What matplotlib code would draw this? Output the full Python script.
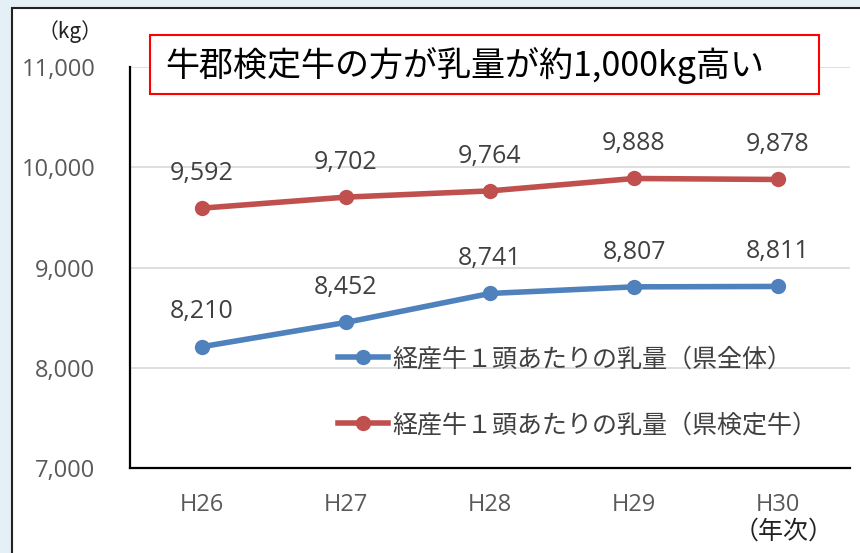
import matplotlib
matplotlib.use("Agg")
import matplotlib.pyplot as plt
from matplotlib.patches import Rectangle

plt.rcParams['font.family'] = ['Noto Sans CJK JP', 'DejaVu Sans']
num_font = ['Open Sans', 'Noto Sans CJK JP']

years = ['H26', 'H27', 'H28', 'H29', 'H30']
ken_zentai = [8210, 8452, 8741, 8807, 8811]
ken_kentei = [9592, 9702, 9764, 9888, 9878]
yticks = [7000, 8000, 9000, 10000, 11000]

blue = '#4f81bd'
red = '#c0504d'

fig = plt.figure(figsize=(8.6, 5.53), dpi=100, facecolor='#e4eff6')
# white chart area with dark frame
fig.patches.append(Rectangle((12 / 860, -0.01), 1.0, 1 - 8 / 553 + 0.01,
                             transform=fig.transFigure, facecolor='white',
                             edgecolor='#222222', linewidth=1.5, zorder=-1))

ax = fig.add_axes([130 / 860, 1 - 468 / 553, 720 / 860, 401 / 553])
ax.set_facecolor('none')
ax.set_zorder(1)
x = range(len(years))

ax.plot(x, ken_zentai, color=blue, lw=4, marker='o', ms=10,
        label='経産牛１頭あたりの乳量（県全体）', zorder=3)
ax.plot(x, ken_kentei, color=red, lw=4, marker='o', ms=10,
        label='経産牛１頭あたりの乳量（県検定牛）', zorder=3)

for xi, v in zip(x, ken_zentai):
    ax.annotate(f'{v:,}', (xi, v), xytext=(0, 25), textcoords='offset points',
                ha='center', va='center', fontsize=18, color='#404040',
                family=num_font)
for xi, v in zip(x, ken_kentei):
    ax.annotate(f'{v:,}', (xi, v), xytext=(0, 25), textcoords='offset points',
                ha='center', va='center', fontsize=18, color='#404040',
                family=num_font)

ax.set_xlim(-0.5, 4.5)
ax.set_ylim(7000, 11000)
ax.set_yticks(yticks)
ax.set_yticklabels([f'{v:,}' for v in yticks], family=num_font)
ax.set_xticks(list(x))
ax.set_xticklabels(years, family=num_font)
ax.tick_params(axis='y', length=0, pad=25, labelsize=17, labelcolor='#595959')
ax.tick_params(axis='x', length=0, pad=18, labelsize=17, labelcolor='#595959')
ax.grid(axis='y', color='#d9d9d9', lw=1.2, zorder=0)
ax.set_axisbelow(True)
for s in ['top', 'right']:
    ax.spines[s].set_visible(False)
for s in ['left', 'bottom']:
    ax.spines[s].set_color('black')
    ax.spines[s].set_linewidth(1.6)

leg = ax.legend(loc='upper left', bbox_to_anchor=(0.258, 0.36), frameon=False,
                fontsize=18, labelcolor='#404040', handlelength=2.0,
                handletextpad=0.15, labelspacing=1.6)

fig.text(70 / 860, 1 - 32 / 553, '（kg）', ha='center', va='center',
         fontsize=15, color='#222222')
fig.text(834 / 860, 1 - 532 / 553, '（年次）', ha='right', va='center',
         fontsize=18, color='#222222')

# title box drawn above the axes grid
title_box = Rectangle((150 / 860, 1 - 94 / 553), 669 / 860, 59 / 553,
                      transform=fig.transFigure, facecolor='white',
                      edgecolor='#ff0000', linewidth=1.5, zorder=5)
fig.patches.append(title_box)
fig.text(165 / 860, 1 - 66 / 553, '牛郡検定牛の方が乳量が約1,000kg高い',
         ha='left', va='center', fontsize=24.5, color='black', zorder=6)

fig.savefig('out.png', dpi=100, facecolor=fig.get_facecolor())
